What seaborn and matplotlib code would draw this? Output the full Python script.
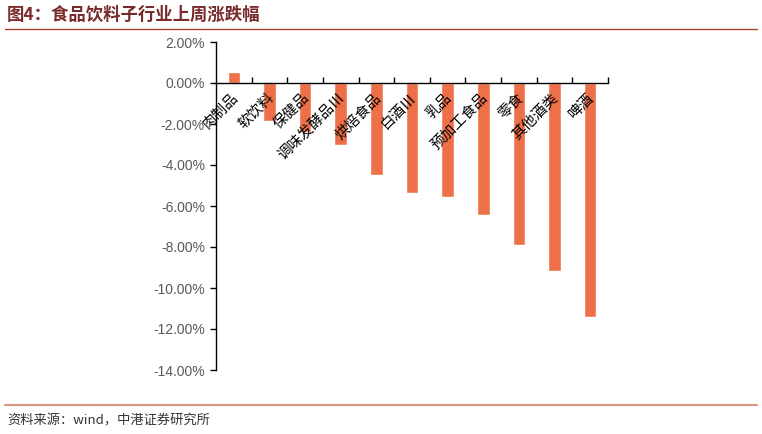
import numpy as np
import pandas as pd
import seaborn as sns
import matplotlib.pyplot as plt
import matplotlib.transforms as mtransforms
from matplotlib.ticker import FuncFormatter, FixedLocator

# data (weekly change, %)
categories = ['肉制品', '软饮料', '保健品', '调味发酵品Ⅲ', '烘焙食品', '白酒Ⅲ',
              '乳品', '预加工食品', '零食', '其他酒类', '啤酒']
changes = [0.52, -1.87, -2.40, -3.00, -4.50, -5.35,
           -5.56, -6.45, -7.88, -9.19, -11.41]
y_ticks = [2, 0, -2, -4, -6, -8, -10, -12, -14]

df = pd.DataFrame({'行业': categories, '涨跌幅': changes})

sns.set_style('white')
plt.rcParams['font.family'] = ['Noto Sans CJK SC', 'DejaVu Sans']
plt.rcParams['axes.unicode_minus'] = False

fig = plt.figure(figsize=(7.62, 4.34), dpi=100)
ax = fig.add_axes([216 / 762, 1 - 370 / 434, 392 / 762, 328 / 434])

sns.barplot(data=df, x='行业', y='涨跌幅', order=categories, color='#EE7049',
            width=0.35, saturation=1, ax=ax)

ax.set_xlim(-0.5, len(categories) - 0.5)
ax.set_ylim(-14, 2)
ax.set_xlabel('')
ax.set_ylabel('')
ax.set_axisbelow(False)  # labels sit on top of the bars

# spines: left axis + x axis through zero
for side in ['top', 'right']:
    ax.spines[side].set_visible(False)
ax.spines['bottom'].set_position(('data', 0))
ax.spines['bottom'].set_color('black')
ax.spines['left'].set_color('black')
ax.spines['bottom'].set_linewidth(1.0)
ax.spines['left'].set_linewidth(1.0)

# y axis
ax.yaxis.set_major_locator(FixedLocator(y_ticks))
ax.yaxis.set_major_formatter(FuncFormatter(lambda v, p: f'{v:.2f}%'))
ax.tick_params(axis='y', direction='out', length=4, width=1, color='black',
               labelsize=10, labelcolor='#595959', pad=4, left=True)
for lab in ax.get_yticklabels():
    lab.set_family('Liberation Sans')

# x axis: labels at centres, tick marks at category boundaries
ax.set_xticks(range(len(categories)))
ax.set_xticklabels(categories, rotation=45, ha='right', va='center',
                   rotation_mode='anchor', fontsize=10.5, color='black')
ax.tick_params(axis='x', which='major', length=0, pad=9)
ax.set_xticks(np.arange(0.5, len(categories), 1), minor=True)
ax.tick_params(axis='x', which='minor', direction='in', length=4, width=1,
               color='black', bottom=True)
shift = mtransforms.ScaledTranslation(2 / 100, 0, fig.dpi_scale_trans)
for lab in ax.get_xticklabels():
    lab.set_transform(lab.get_transform() + shift)

# title, rules and source line
fig.text(7 / 762, 1 - 15 / 434, '图4：食品饮料子行业上周涨跌幅', fontsize=12.5,
         fontweight='bold', color='#7A2A2A', va='center', ha='left')
fig.add_artist(plt.Line2D([5 / 762, 757 / 762], [1 - 29 / 434, 1 - 29 / 434],
                          color='#A5402A', linewidth=1.0))
fig.add_artist(plt.Line2D([5 / 762, 757 / 762], [1 - 405 / 434, 1 - 405 / 434],
                          color='#D99580', linewidth=1.5))
fig.text(7 / 762, 1 - 421 / 434, '资料来源：wind，中港证券研究所', fontsize=9.5,
         style='italic', color='#333333', va='center', ha='left')

fig.savefig('out.png', dpi=100)
